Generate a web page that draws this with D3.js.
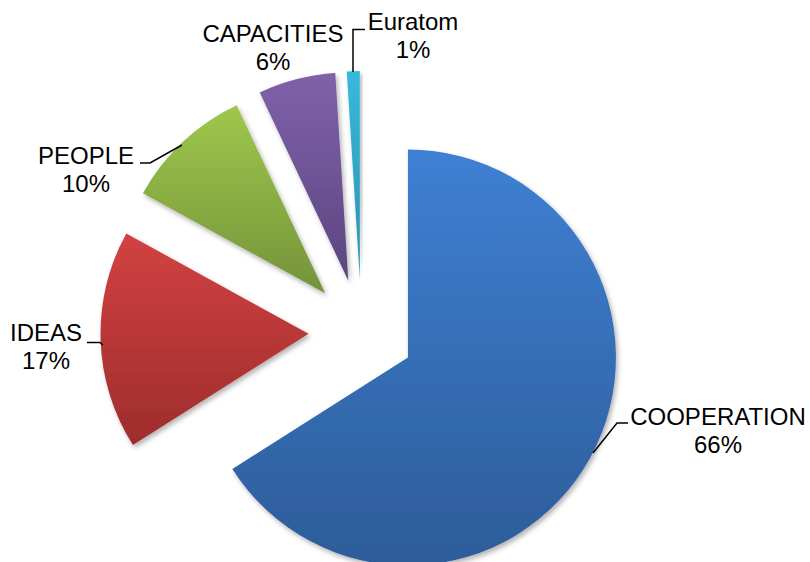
<!DOCTYPE html>
<html><head><meta charset="utf-8">
<script src="https://cdn.jsdelivr.net/npm/d3@7"></script>
<style>body{margin:0;background:#fff}svg{display:block}</style>
</head><body>
<svg id="chart" width="810" height="562"></svg>
<script>
const categories = ["COOPERATION", "IDEAS", "PEOPLE", "CAPACITIES", "Euratom"];
const values = [66, 17, 10, 6, 1];
const percentLabels = ["66%", "17%", "10%", "6%", "1%"];
const topColors = ["#3f80d3", "#d24242", "#9fc74c", "#8061aa", "#38b9dc"];
const bottomColors = ["#2d5c99", "#9e2c2c", "#74933a", "#5b4580", "#2a91ad"];

const svg = d3.select("#chart");
const cx = 361.5, cy = 332, R = 208, explode = 53;

const defs = svg.append("defs");
const f = defs.append("filter").attr("id","sh").attr("x","-20%").attr("y","-20%").attr("width","140%").attr("height","140%");
f.append("feDropShadow").attr("dx",2).attr("dy",3).attr("stdDeviation",2.5).attr("flood-color","#000").attr("flood-opacity",0.3);

categories.forEach((c,i)=>{
  const g = defs.append("linearGradient").attr("id","g"+i).attr("x1",0).attr("y1",0).attr("x2",0).attr("y2",1);
  g.append("stop").attr("offset","0%").attr("stop-color",topColors[i]);
  g.append("stop").attr("offset","100%").attr("stop-color",bottomColors[i]);
});

const pie = d3.pie().sort(null).value(d=>d);
const arcs = pie(values);
const arc = d3.arc().innerRadius(0).outerRadius(R);

const g = svg.append("g").attr("transform",`translate(${cx},${cy})`);
g.selectAll("path").data(arcs).join("path")
  .attr("transform", d=>{
    const m = (d.startAngle+d.endAngle)/2;
    return `translate(${explode*Math.sin(m)},${-explode*Math.cos(m)})`;
  })
  .attr("d", arc)
  .attr("fill", (d,i)=>`url(#g${i})`)
  .attr("filter","url(#sh)");

// labels
const labelPos = [
  {x:718, y:425},
  {x:46, y:341},
  {x:86, y:164},
  {x:273, y:42},
  {x:413, y:30}
];
const leaders = [
  [[593,453],[617,423],[628,423]],
  [[103,345],[100,342.5],[87,342.5]],
  [[182,145],[150,163],[140,163]],
  [],
  [[353,72],[353,29.5],[365,29.5]]
];
const line = d3.line();
svg.selectAll("path.lead").data(leaders.filter(l=>l.length)).join("path")
  .attr("class","lead").attr("d",line).attr("fill","none").attr("stroke","#000").attr("stroke-width",1.5);

const t = svg.selectAll("text.lab").data(categories).join("text")
  .attr("class","lab")
  .attr("text-anchor","middle")
  .attr("font-family","'Liberation Sans', Arial, sans-serif")
  .attr("font-size",24)
  .attr("fill","#000");
t.append("tspan").attr("x",(d,i)=>labelPos[i].x).attr("y",(d,i)=>labelPos[i].y).text(d=>d);
t.append("tspan").attr("x",(d,i)=>labelPos[i].x).attr("y",(d,i)=>labelPos[i].y+28).text((d,i)=>percentLabels[i]);
</script>
</body></html>
